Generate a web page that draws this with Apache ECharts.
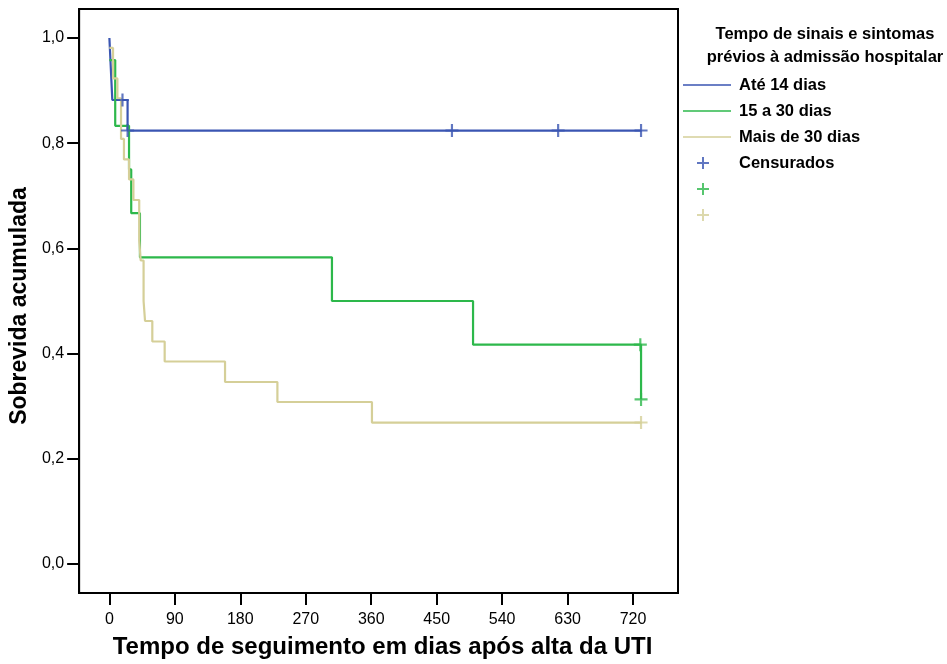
<!DOCTYPE html>
<html>
<head>
<meta charset="utf-8">
<script src="https://cdn.jsdelivr.net/npm/echarts@6/dist/echarts.min.js"></script>
<style>
html,body{margin:0;padding:0;background:#fff;}
#chart{width:947px;height:664px;}
</style>
</head>
<body>
<div id="chart"></div>
<script>
// ---- data ----
const seriesNames = ['Até 14 dias', '15 a 30 dias', 'Mais de 30 dias'];
const censorName = 'Censurados';
const legendTitle = 'Tempo de sinais e sintomas\nprévios à admissão hospitalar';
const xTicks = [0, 90, 180, 270, 360, 450, 540, 630, 720];
const yTicks = [0, 0.2, 0.4, 0.6, 0.8, 1.0];

const blueTimes = [0, 2, 4, 25, 732];
const blueSurv  = [1.0, 0.941, 0.882, 0.824, 0.824];
const blueCensorTimes = [18, 25, 471, 617, 731];
const blueCensorSurv  = [0.882, 0.824, 0.824, 0.824, 0.824];

const greenTimes = [0, 8, 27, 30, 42, 306, 500, 731];
const greenSurv  = [0.958, 0.833, 0.75, 0.667, 0.583, 0.5, 0.417, 0.313];
const greenCensorTimes = [730, 731];
const greenCensorSurv  = [0.417, 0.313];

const tanTimes = [0, 5, 11, 16, 20, 27, 33, 41, 43, 47, 49, 59, 76, 159, 231, 361, 732];
const tanSurv  = [0.981, 0.923, 0.885, 0.808, 0.769, 0.731, 0.692, 0.615, 0.577, 0.5, 0.462, 0.423, 0.385, 0.346, 0.308, 0.269, 0.269];
const tanCensorTimes = [731];
const tanCensorSurv  = [0.269];

// ---- styling ----
const colors = ['#3a55b2', '#2db84b', '#d5cf98'];
const FONT = 'Liberation Sans, Arial, sans-serif';
const crossPath = 'path://M5,0 L7,0 L7,5 L12,5 L12,7 L7,7 L7,12 L5,12 L5,7 L0,7 L0,5 L5,5 Z';
// legend cross: same cross placed inside a 48-wide invisible box (zero-area corner points)
const crossLegendPath = 'path://M19,0 L21,0 L21,5 L26,5 L26,7 L21,7 L21,12 L19,12 L19,7 L14,7 L14,5 L19,5 Z M0,0 L0,0 L0,0 Z M48,12 L48,12 L48,12 Z';
const linePath = 'path://M0,0 L48,0 L48,1.6 L0,1.6 Z';

const zip = (a, b) => a.map((v, i) => [v, b[i]]);

const lineSeries = (name, t, s, c) => ({
  name: name, type: 'line', step: 'end', data: zip(t, s),
  showSymbol: false, symbol: 'none', silent: true,
  lineStyle: { color: c, width: 2.2 }, itemStyle: { color: c }, z: 3
});
const censorSeries = (name, t, s, c) => ({
  name: name, type: 'scatter', data: zip(t, s),
  symbol: crossPath, symbolSize: 13, silent: true,
  itemStyle: { color: c }, z: 4
});

const chart = echarts.init(document.getElementById('chart'), null, { renderer: 'canvas' });
chart.setOption({
  animation: false,
  backgroundColor: '#fff',
  grid: { left: 79, right: 269, top: 9, bottom: 70, show: true, borderColor: '#000', borderWidth: 2, backgroundColor: 'transparent' },
  title: {
    text: legendTitle, left: 820, top: 18, textAlign: 'center',
    textStyle: { fontFamily: FONT, fontSize: 16.5, fontWeight: 'bold', color: '#000', lineHeight: 23 }
  },
  legend: {
    orient: 'vertical', left: 683, top: 76.5, padding: 0, itemWidth: 48, itemHeight: 13, itemGap: 9,
    selectedMode: false,
    textStyle: { fontFamily: FONT, fontSize: 16.5, fontWeight: 'bold', color: '#000', lineHeight: 17, padding: [0, 0, 0, 3] },
    formatter: n => (n === censorName + '2' || n === censorName + '3') ? ' ' : n,
    data: [
      { name: seriesNames[0], icon: linePath },
      { name: seriesNames[1], icon: linePath },
      { name: seriesNames[2], icon: linePath },
      { name: censorName, icon: crossLegendPath },
      { name: censorName + '2', icon: crossLegendPath },
      { name: censorName + '3', icon: crossLegendPath }
    ]
  },
  xAxis: {
    type: 'value', min: -41.6, max: 781.8,
    name: 'Tempo de seguimento em dias após alta da UTI', nameLocation: 'middle', nameGap: 42,
    nameTextStyle: { fontFamily: FONT, fontSize: 24, fontWeight: 'bold', color: '#000', padding: [0, 0, 0, 8] },
    axisLine: { show: true, onZero: false, lineStyle: { color: '#000', width: 2 } },
    axisTick: { show: true, inside: false, length: 12, lineStyle: { color: '#000', width: 2 }, customValues: xTicks },
    axisLabel: { show: true, margin: 19, fontFamily: FONT, fontSize: 16, color: '#000', customValues: xTicks },
    splitLine: { show: false }
  },
  yAxis: {
    type: 'value', min: -0.055, max: 1.055,
    name: 'Sobrevida acumulada', nameLocation: 'middle', nameGap: 45,
    nameTextStyle: { fontFamily: FONT, fontSize: 23, fontWeight: 'bold', color: '#000', padding: [0, 10, 0, 0] },
    axisLine: { show: true, onZero: false, lineStyle: { color: '#000', width: 2 } },
    axisTick: { show: true, inside: false, length: 12, lineStyle: { color: '#000', width: 2 }, customValues: yTicks },
    axisLabel: { show: true, margin: 15, fontFamily: FONT, fontSize: 16, color: '#000', customValues: yTicks,
      formatter: v => v.toFixed(1).replace('.', ',') },
    splitLine: { show: false }
  },
  series: [
    lineSeries(seriesNames[0], blueTimes, blueSurv, colors[0]),
    lineSeries(seriesNames[1], greenTimes, greenSurv, colors[1]),
    lineSeries(seriesNames[2], tanTimes, tanSurv, colors[2]),
    censorSeries(censorName, blueCensorTimes, blueCensorSurv, colors[0]),
    censorSeries(censorName + '2', greenCensorTimes, greenCensorSurv, colors[1]),
    censorSeries(censorName + '3', tanCensorTimes, tanCensorSurv, colors[2])
  ]
});
</script>
</body>
</html>
